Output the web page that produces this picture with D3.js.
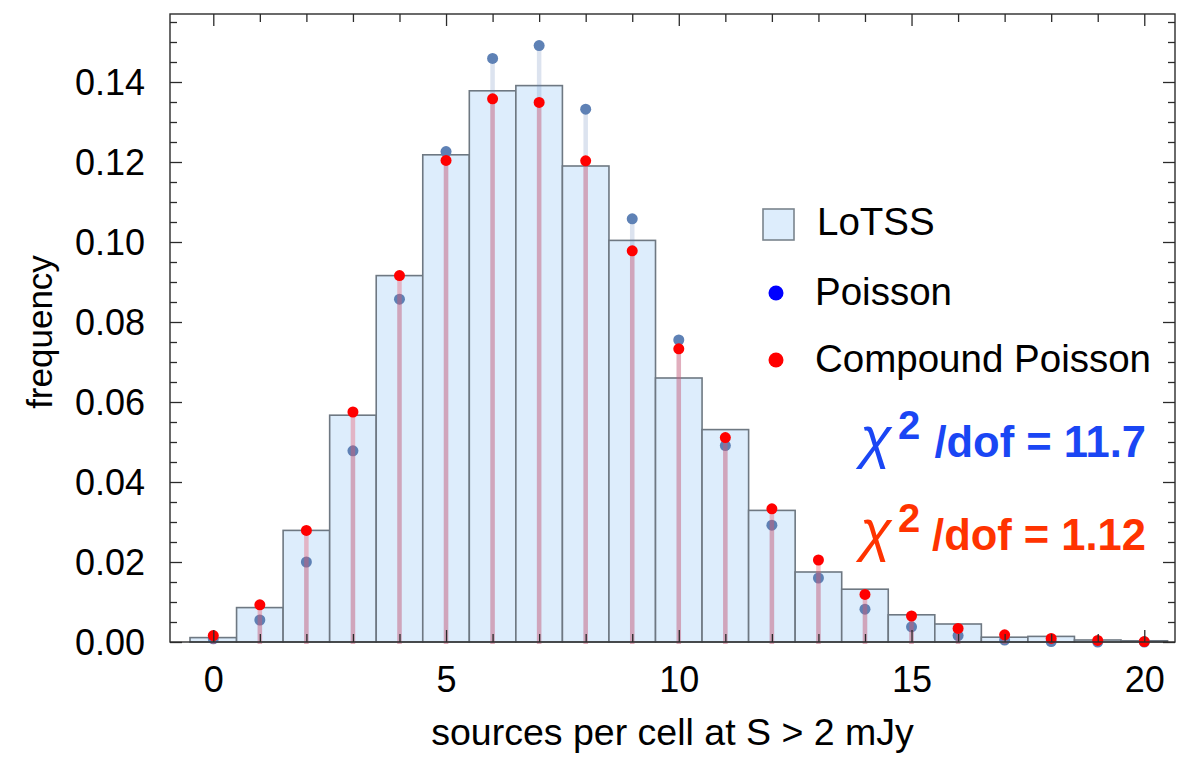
<!DOCTYPE html>
<html>
<head>
<meta charset="utf-8">
<script src="https://cdn.jsdelivr.net/npm/d3@7"></script>
<style>
  html, body { margin: 0; padding: 0; background: #ffffff; }
  svg { display: block; }
  text { font-family: "Liberation Sans", Arial, Helvetica, sans-serif; }
</style>
</head>
<body>
<svg id="chart" width="1184" height="760"></svg>
<script>
// Counts per cell: observed histogram and two model predictions
const counts = d3.range(0, 21);
const lotss = [0.0011, 0.0086, 0.0279, 0.0567, 0.0916, 0.1218, 0.1378, 0.1391, 0.1190, 0.1004,
               0.0660, 0.0531, 0.0329, 0.0175, 0.0132, 0.0068, 0.0045, 0.0012, 0.0014, 0.0005, 0.0003];
const poisson = [0.0008, 0.0055, 0.0200, 0.0478, 0.0857, 0.1226, 0.1459, 0.1491, 0.1332, 0.1058,
                 0.0755, 0.0491, 0.0292, 0.0160, 0.0082, 0.0038, 0.0016, 0.0005, 0.0001, 0.0000, 0.0000];
const compound = [0.0016, 0.0093, 0.0279, 0.0575, 0.0916, 0.1204, 0.1358, 0.1349, 0.1203, 0.0978,
                  0.0733, 0.0511, 0.0333, 0.0205, 0.0119, 0.0065, 0.0034, 0.0018, 0.0009, 0.0004, 0.0001];

const xTicks = [0, 5, 10, 15, 20];
const yTicks = [0, 0.02, 0.04, 0.06, 0.08, 0.10, 0.12, 0.14];
const yTickLabels = ["0.00", "0.02", "0.04", "0.06", "0.08", "0.10", "0.12", "0.14"];

const legendItems = ["LoTSS", "Poisson", "Compound Poisson"];
const chiPoisson = "11.7";
const chiCompound = "1.12";

const svg = d3.select("#chart");
const plotLeft = 170, plotRight = 1175, plotTop = 14, plotBottom = 642;

const x = d3.scaleLinear().domain([-0.93, 20.66]).range([plotLeft, plotRight]);
const y = d3.scaleLinear().domain([0, 0.157]).range([plotBottom, plotTop]);

const barFill = "#ddedfc", barStroke = "#6e7882";
const blueDot = "#5e81b5", redDot = "#ff0000";

// Histogram bars, one unit wide, centred on each count
svg.append("g").selectAll("rect").data(counts).join("rect")
  .attr("x", d => x(d - 0.5))
  .attr("y", d => y(lotss[d]))
  .attr("width", d => x(d + 0.5) - x(d - 0.5))
  .attr("height", d => y(0) - y(lotss[d]))
  .attr("fill", barFill)
  .attr("stroke", barStroke)
  .attr("stroke-width", 1.6);

// Poisson stems and points
svg.append("g").selectAll("line").data(counts).join("line")
  .attr("x1", d => x(d)).attr("x2", d => x(d))
  .attr("y1", y(0) + 2).attr("y2", d => y(poisson[d]))
  .attr("stroke", blueDot).attr("stroke-opacity", 0.22).attr("stroke-width", 4.5);
svg.append("g").selectAll("circle").data(counts).join("circle")
  .attr("cx", d => x(d)).attr("cy", d => y(poisson[d])).attr("r", 5.5)
  .attr("fill", blueDot);

// Compound Poisson stems and points
svg.append("g").selectAll("line").data(counts).join("line")
  .attr("x1", d => x(d)).attr("x2", d => x(d))
  .attr("y1", y(0) + 2).attr("y2", d => y(compound[d]))
  .attr("stroke", "rgb(235,80,100)").attr("stroke-opacity", 0.36).attr("stroke-width", 4.5);
svg.append("g").selectAll("circle").data(counts).join("circle")
  .attr("cx", d => x(d)).attr("cy", d => y(compound[d])).attr("r", 5.5)
  .attr("fill", redDot);

// Frame with inward ticks on all four sides
const frameColor = "#2b2b2b";
const yMinor = d3.range(0, 0.1571, 0.005).filter(v => Math.abs(v / 0.02 - Math.round(v / 0.02)) > 1e-6);
const xMinor = counts.filter(v => v % 5 !== 0);

function styleAxis(g) {
  g.select(".domain").remove();
  g.selectAll(".tick line").attr("stroke", frameColor).attr("stroke-width", 1.3);
  g.selectAll(".tick text").attr("font-size", 36).attr("fill", "#000");
}

svg.append("g").attr("transform", `translate(${plotLeft},0)`)
  .call(d3.axisLeft(y).tickValues(yTicks).tickSize(-12).tickPadding(25)
        .tickFormat((d, i) => yTickLabels[i]))
  .call(styleAxis)
  .call(g => g.selectAll(".tick text").attr("dy", "0.36em"));
svg.append("g").attr("transform", `translate(${plotLeft},0)`)
  .call(d3.axisLeft(y).tickValues(yMinor).tickSize(-7).tickFormat(""))
  .call(styleAxis);
svg.append("g").attr("transform", `translate(${plotRight},0)`)
  .call(d3.axisRight(y).tickValues(yTicks).tickSize(-12).tickFormat(""))
  .call(styleAxis);
svg.append("g").attr("transform", `translate(${plotRight},0)`)
  .call(d3.axisRight(y).tickValues(yMinor).tickSize(-7).tickFormat(""))
  .call(styleAxis);

svg.append("g").attr("transform", `translate(0,${plotBottom})`)
  .call(d3.axisBottom(x).tickValues(xTicks).tickSize(-12).tickPadding(24).tickFormat(d3.format("d")))
  .call(styleAxis);
svg.append("g").attr("transform", `translate(0,${plotBottom})`)
  .call(d3.axisBottom(x).tickValues(xMinor).tickSize(-8).tickFormat(""))
  .call(styleAxis);
svg.append("g").attr("transform", `translate(0,${plotTop})`)
  .call(d3.axisTop(x).tickValues(xTicks).tickSize(-12).tickFormat(""))
  .call(styleAxis);
svg.append("g").attr("transform", `translate(0,${plotTop})`)
  .call(d3.axisTop(x).tickValues(xMinor).tickSize(-8).tickFormat(""))
  .call(styleAxis);

svg.append("rect")
  .attr("x", plotLeft).attr("y", plotTop)
  .attr("width", plotRight - plotLeft).attr("height", plotBottom - plotTop)
  .attr("fill", "none").attr("stroke", frameColor).attr("stroke-width", 1.4);

// Axis titles
svg.append("text")
  .attr("x", (plotLeft + plotRight) / 2).attr("y", 745)
  .attr("text-anchor", "middle").attr("font-size", 37.5).attr("fill", "#000")
  .text("sources per cell at S > 2 mJy");
svg.append("text")
  .attr("transform", "translate(52,332) rotate(-90)")
  .attr("text-anchor", "middle").attr("font-size", 35).attr("fill", "#000")
  .text("frequency");

// Legend
const legend = svg.append("g");
legend.append("rect")
  .attr("x", 763).attr("y", 209).attr("width", 31).attr("height", 31)
  .attr("fill", barFill).attr("stroke", "#7a848d").attr("stroke-width", 1.6);
legend.append("circle").attr("cx", 776).attr("cy", 293).attr("r", 7.5).attr("fill", "#0000ff");
legend.append("circle").attr("cx", 776).attr("cy", 360).attr("r", 7.5).attr("fill", "#ff0000");
legend.selectAll("text").data(legendItems).join("text")
  .attr("x", (d, i) => i === 0 ? 817 : 815)
  .attr("y", (d, i) => [235, 305, 372][i])
  .attr("font-size", 38.5).attr("fill", "#000")
  .text(d => d);

// Reduced chi-square annotations
function chiLabel(baseline, value, color) {
  const g = svg.append("g").attr("fill", color);
  g.append("text")
    .attr("x", 860).attr("y", baseline)
    .attr("font-family", "'Liberation Serif', 'Times New Roman', serif")
    .attr("font-style", "italic")
    .attr("font-size", 58)
    .text("\u03c7");
  g.append("text")
    .attr("x", 898).attr("y", baseline - 18)
    .attr("font-weight", "bold").attr("font-size", 40)
    .text("2");
  g.append("text")
    .attr("x", 1146).attr("y", baseline)
    .attr("text-anchor", "end")
    .attr("font-weight", "bold").attr("font-size", 43.5)
    .text("/dof = " + value);
}
chiLabel(457, chiPoisson, "#1a46f4");
chiLabel(550, chiCompound, "#ff3300");
</script>
</body>
</html>
